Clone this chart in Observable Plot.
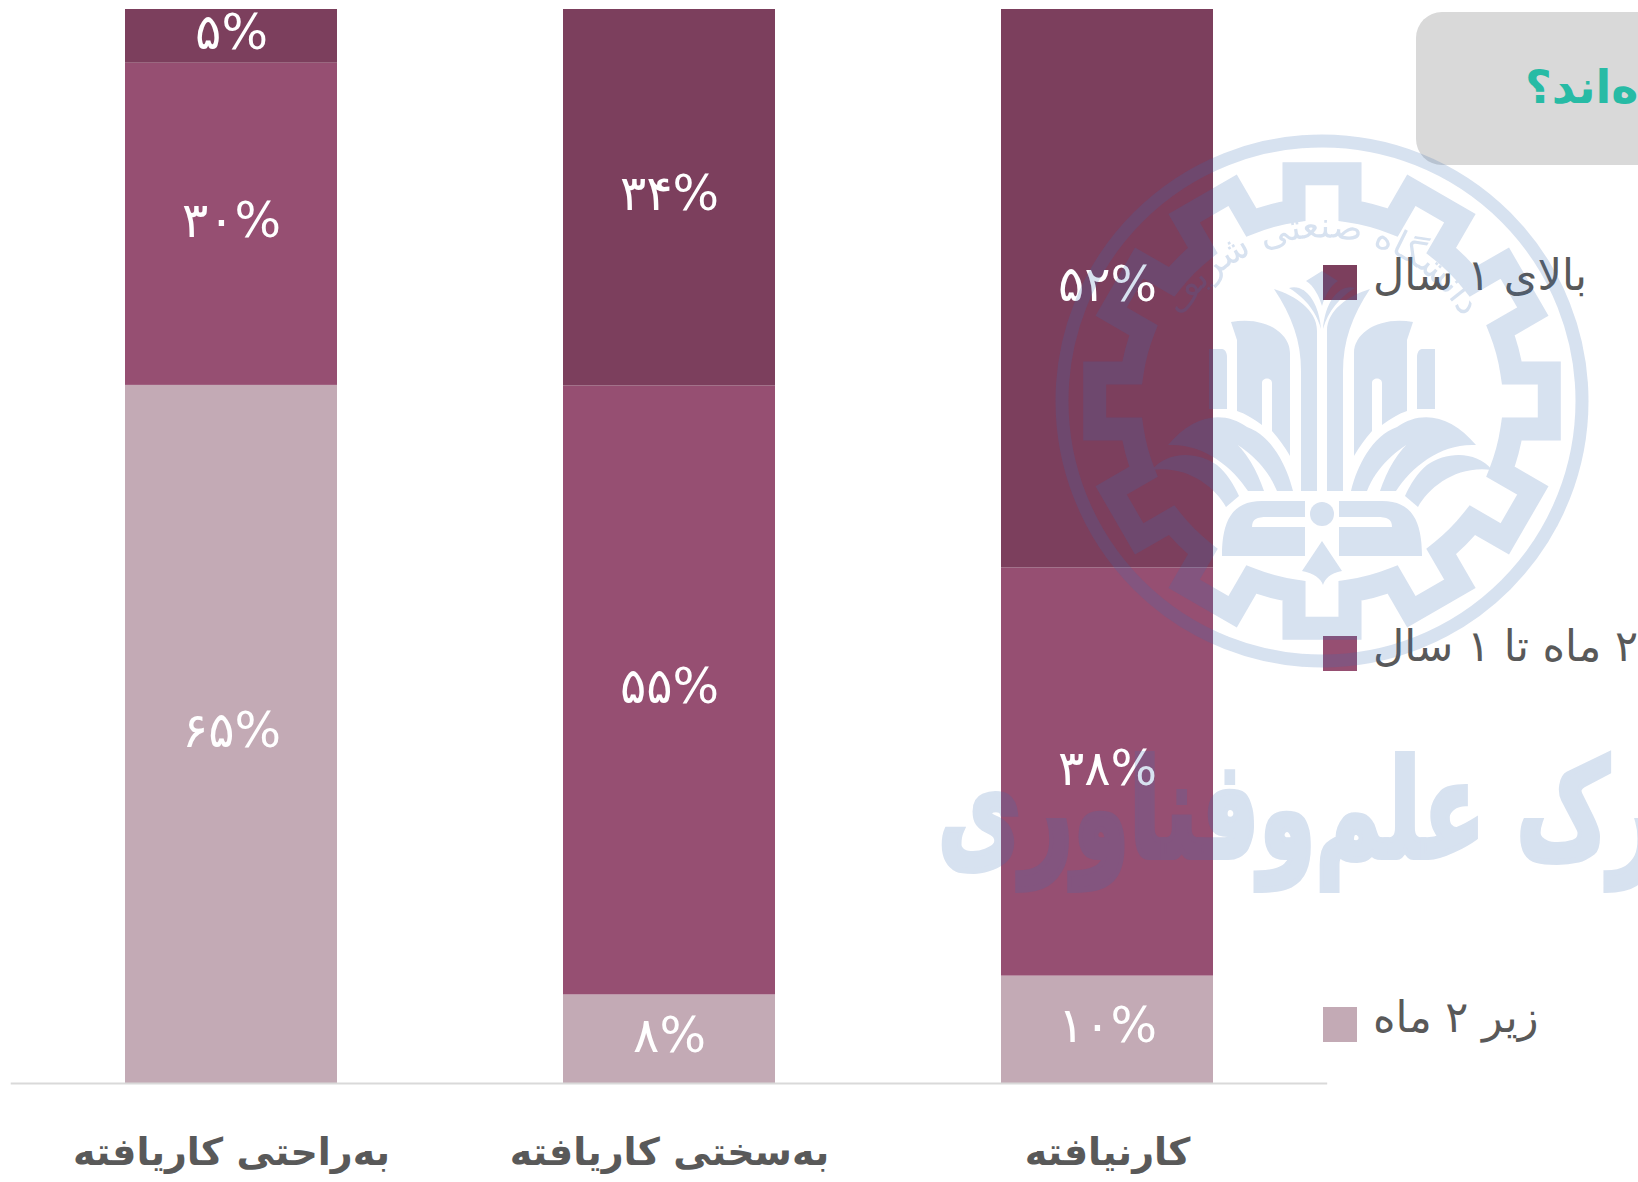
<!DOCTYPE html>
<html lang="fa">
<head>
<meta charset="utf-8">
<script src="https://cdn.jsdelivr.net/npm/d3@7"></script>
<script src="https://cdn.jsdelivr.net/npm/@observablehq/plot@0.6"></script>
<style>
html,body{margin:0;padding:0;background:#fff;overflow:hidden;width:1638px;height:1182px}
body{position:relative;font-family:"DejaVu Sans",sans-serif}
#chart,#wm{position:absolute;left:0;top:0}
#wm{pointer-events:none}
#titlebox{position:absolute;left:1416px;top:12px;width:300px;height:153px;background:#d9d9d9;border-radius:26px 0 0 26px}
#title{position:absolute;left:1525px;top:60px;white-space:nowrap;direction:rtl;font-weight:bold;font-size:46px;line-height:54px;color:#27bba5}
.sw{position:absolute;left:1323px;width:34px;height:35px}
.lg{position:absolute;left:1373px;white-space:nowrap;direction:rtl;font-size:43px;line-height:50px;color:#595959}
</style>
</head>
<body>
<div id="titlebox"></div>
<div id="title">شده‌اند؟</div>
<div id="chart"></div>
<div id="legend"></div>
<svg id="wm" width="1638" height="1182" xmlns="http://www.w3.org/2000/svg"></svg>
<script>
const categories = ["به‌راحتی کاریافته", "به‌سختی کاریافته", "کارنیافته"];
const seriesNames = ["زیر ۲ ماه", "۲ ماه تا ۱ سال", "بالای ۱ سال"];
const seriesColors = ["#c3aab5", "#964f72", "#7c3f5d"];
const under2Months = [65, 8, 10];
const twoMonthsToYear = [30, 55, 38];
const overYear = [5, 34, 52];
const seriesValues = [under2Months, twoMonthsToYear, overYear];

const rows = seriesNames.flatMap((s, i) =>
  categories.map((c, j) => ({category: c, series: s, value: seriesValues[i][j]}))
);
const fa = v => v.toLocaleString("fa-IR") + "%";
const stackOpts = {x: "category", y: "value", z: "series", offset: "normalize", order: seriesNames};

const plot = Plot.plot({
  width: 1638, height: 1182,
  marginLeft: 10.7, marginRight: 310.8, marginTop: 9, marginBottom: 99,
  style: {fontFamily: '"DejaVu Sans",sans-serif', background: "transparent"},
  x: {domain: categories, paddingInner: 0.5165, paddingOuter: 0.258, label: null},
  y: {axis: null},
  color: {domain: seriesNames, range: seriesColors},
  marks: [
    Plot.barY(rows, Plot.stackY({...stackOpts, fill: "series"})),
    Plot.ruleY([0], {stroke: "#d9d9d9", strokeWidth: 2}),
    Plot.text(rows, Plot.stackY({...stackOpts, text: d => fa(d.value), fill: "white", fontSize: 49, dy: -3})),
    Plot.axisX({tickSize: 0, tickPadding: 55, fontSize: 38, fontWeight: "bold", fill: "#595959", label: null})
  ]
});
document.getElementById("chart").append(plot);

// Legend
const legendTops = [265, 636, 1007];
const order = [2, 1, 0];
const legend = document.getElementById("legend");
order.forEach((s, i) => {
  const sw = document.createElement("div");
  sw.className = "sw"; sw.style.top = legendTops[i] + "px"; sw.style.background = seriesColors[s];
  const t = document.createElement("div");
  t.className = "lg"; t.style.top = (legendTops[i] - 15) + "px"; t.textContent = seriesNames[s];
  legend.append(sw, t);
});

// Watermark (decorative university seal)
const wmColor = "rgb(59,109,179)";
const wmAlpha = 0.2;
const wm = d3.select("#wm").append("g").attr("opacity", wmAlpha);
const seal = wm.append("g").attr("transform", "translate(1322,401)");
seal.append("circle").attr("r", 260).attr("fill", "none").attr("stroke", wmColor).attr("stroke-width", 13);
let gear = "";
const rRoot = 192, rTip = 229, hw = 28;
for (let k = 0; k < 12; k++) {
  const a = k * Math.PI / 6;
  const p = (r, off) => { const da = Math.asin(off / r); return [r * Math.sin(a + da), -r * Math.cos(a + da)].map(v => v.toFixed(1)).join(","); };
  gear += (k ? "L" : "M") + p(rRoot, -hw) + "L" + p(rTip, -hw) + "L" + p(rTip, hw) + "L" + p(rRoot, hw);
  const nextA = (k + 1) * Math.PI / 6, da2 = Math.asin(hw / rRoot);
  const nx = rRoot * Math.sin(nextA - da2), ny = -rRoot * Math.cos(nextA - da2);
  gear += `A${rRoot},${rRoot} 0 0 1 ${nx.toFixed(1)},${ny.toFixed(1)}`;
}
seal.append("path").attr("d", gear + "Z").attr("fill", "none").attr("stroke", wmColor).attr("stroke-width", 23);
const half = [
  "M-5,90 L-5,-70 C-5,-90 -25,-105 -48,-112 C-30,-85 -21,-60 -21,-30 L-21,90 Z",
  "M-33,-113 C-18,-118 -3,-100 -1,-72 C-6,-90 -18,-104 -33,-113 Z",
  "M-91,-79 C-60,-85 -32,-70 -32,-48 L-32,55 C-37,46 -43,38 -50,30 L-50,-18 C-50,-24 -60,-24 -60,-18 L-60,24 C-68,18 -76,13 -85,10 L-85,-61 Z",
  "M-113,-52 L-100,-52 C-97,-52 -95,-48 -95,-44 L-95,8 L-113,8 Z",
  "M-154,44 C-130,15 -100,8 -75,26 C-50,35 -35,65 -29,90 L-45,90 C-55,65 -75,48 -95,38 C-98,36 -95,33 -93,36 C-75,50 -65,70 -58,90 L-74,90 C-90,65 -120,42 -154,44 Z",
  "M-170,69 C-155,50 -125,50 -105,64 C-95,72 -88,84 -83,95 L-96,106 C-107,86 -135,64 -170,69 Z",
  "M-17,100 L-60,100 C-90,100 -100,120 -100,155 L-17,155 L-17,126 L-70,126 C-70,118 -65,116 -55,116 L-17,116 Z"
];
[1, -1].forEach(s => {
  const g = seal.append("g").attr("transform", `scale(${s},1)`);
  half.forEach(d => g.append("path").attr("d", d).attr("fill", wmColor));
});
seal.append("circle").attr("cy", 113).attr("r", 12).attr("fill", wmColor);
seal.append("path").attr("d", "M0,140 L20,170 C8,172 3,178 1,184 C-1,178 -8,172 -20,170 Z").attr("fill", wmColor);
seal.append("path").attr("d", "M-16,-120 L0,-130 L16,-120 C8,-115 3,-105 0,-95 C-3,-105 -8,-115 -16,-120 Z").attr("fill", wmColor);
seal.append("defs").append("path").attr("id", "arc").attr("d", "M-148,-70 A164,164 0 0 1 148,-70");
seal.append("text").attr("font-family", '"DejaVu Sans"').attr("font-size", 36).attr("fill", wmColor).attr("direction", "rtl")
  .append("textPath").attr("href", "#arc").attr("startOffset", "50%").attr("text-anchor", "middle").text("دانشگاه صنعتی شریف");
wm.append("text").attr("transform", "translate(938,857) scale(0.67,1)").attr("direction", "rtl").attr("text-anchor", "end")
  .attr("font-family", '"DejaVu Sans"').attr("font-weight", "bold").attr("font-size", 135).attr("fill", wmColor)
  .attr("stroke", wmColor).attr("stroke-width", 6)
  .text("پارک علم‌وفناوری");
</script>
</body>
</html>
